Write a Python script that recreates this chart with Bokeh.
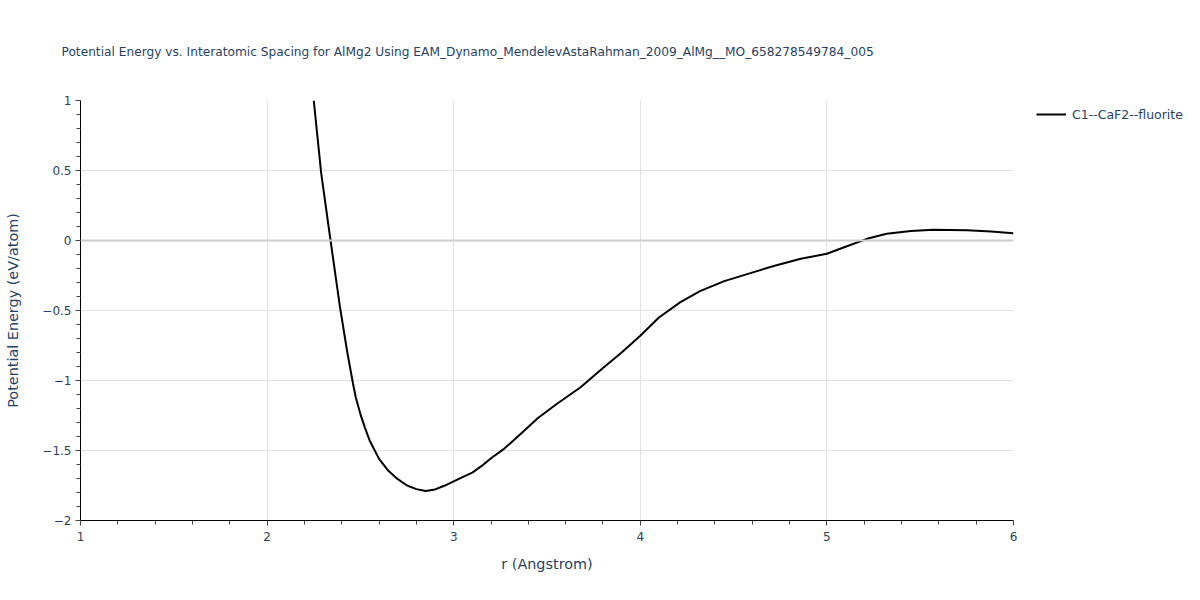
from bokeh.plotting import figure
from bokeh.models import Legend, LegendItem, Span, FixedTicker, CustomJSTickFormatter, Range1d
from bokeh.embed import file_html
from bokeh.resources import INLINE

# ---- data ----
r_angstrom = [2.25, 2.29, 2.34, 2.39, 2.43, 2.46, 2.475, 2.50, 2.525, 2.55, 2.60, 2.65, 2.70,
              2.75, 2.80, 2.85, 2.90, 2.95, 3.00, 3.05, 3.10, 3.15, 3.20, 3.27, 3.36, 3.45,
              3.55, 3.68, 3.80, 3.90, 4.00, 4.10, 4.215, 4.32, 4.45, 4.59, 4.72, 4.86,
              5.00, 5.10, 5.215, 5.32, 5.45, 5.57, 5.75, 5.88, 6.00]
energy = [1.0, 0.48, 0.0, -0.47, -0.80, -1.02, -1.12, -1.24, -1.34, -1.43, -1.56, -1.645, -1.705,
          -1.75, -1.776, -1.79, -1.778, -1.752, -1.72, -1.688, -1.658, -1.61, -1.555, -1.488, -1.38, -1.27,
          -1.17, -1.048, -0.91, -0.80, -0.68, -0.55, -0.44, -0.362, -0.29, -0.233, -0.18, -0.131,
          -0.095, -0.045, 0.012, 0.048, 0.068, 0.076, 0.074, 0.064, 0.052]
series_name = "C1--CaF2--fluorite"
title_text = ("Potential Energy vs. Interatomic Spacing for AlMg2 Using "
              "EAM_Dynamo_MendelevAstaRahman_2009_AlMg__MO_658278549784_005")
x_ticks = [1, 2, 3, 4, 5, 6]
x_minor = [1.2, 1.4, 1.6, 1.8, 2.2, 2.4, 2.6, 2.8, 3.2, 3.4, 3.6, 3.8,
           4.2, 4.4, 4.6, 4.8, 5.2, 5.4, 5.6, 5.8]
y_ticks = [-2, -1.5, -1, -0.5, 0, 0.5, 1]
y_minor = [-1.9, -1.8, -1.7, -1.6, -1.4, -1.3, -1.2, -1.1, -0.9, -0.8, -0.7, -0.6,
           -0.4, -0.3, -0.2, -0.1, 0.1, 0.2, 0.3, 0.4, 0.6, 0.7, 0.8, 0.9]

FONT = "DejaVu Sans"
TXT = "#2a3f5f"

p = figure(frame_width=933, frame_height=420, output_backend="svg", toolbar_location=None,
           x_range=Range1d(1, 6), y_range=Range1d(-2, 1),
           min_border_left=80, min_border_right=10, min_border_top=100, min_border_bottom=64,
           title=title_text)
p.outline_line_color = None
p.background_fill_color = "white"
p.border_fill_color = "white"

p.title.text_font = FONT
p.title.text_font_size = "12.2px"
p.title.text_font_style = "normal"
p.title.text_color = TXT
p.title.offset = -19
p.title.vertical_align = "top"
p.title.standoff = 80

minus_fmt = CustomJSTickFormatter(code="return tick.toString().replace('-', '\u2212');")

for ax, ticks, minor in ((p.xaxis[0], x_ticks, x_minor), (p.yaxis[0], y_ticks, y_minor)):
    ax.ticker = FixedTicker(ticks=ticks, minor_ticks=minor)
    ax.formatter = minus_fmt
    ax.axis_line_color = "black"
    ax.axis_line_width = 1
    ax.major_tick_line_color = "#444444"
    ax.minor_tick_line_color = "#444444"
    ax.major_tick_out = 5
    ax.major_tick_in = 0
    ax.minor_tick_out = 4
    ax.minor_tick_in = 0
    ax.major_label_text_font = FONT
    ax.major_label_text_font_size = "12px"
    ax.major_label_text_color = TXT
    ax.axis_label_text_font = FONT
    ax.axis_label_text_font_size = "14.4px"
    ax.axis_label_text_font_style = "normal"
    ax.axis_label_text_color = TXT

p.xaxis.axis_label = "r (Angstrom)"
p.yaxis.axis_label = "Potential Energy (eV/atom)"
p.xaxis.major_label_standoff = 6
p.xaxis.axis_label_standoff = 12
p.yaxis.major_label_standoff = 4
p.yaxis.axis_label_standoff = 18

p.xgrid.ticker = FixedTicker(ticks=x_ticks)
p.ygrid.ticker = FixedTicker(ticks=[t for t in y_ticks if t != 0])
p.xgrid.grid_line_color = "#e2e2e2"
p.ygrid.grid_line_color = "#e2e2e2"
p.xgrid.grid_line_width = 1
p.ygrid.grid_line_width = 1

zero = Span(location=0, dimension="width", line_color="#cccccc", line_width=2)
p.add_layout(zero)

ln = p.line(r_angstrom, energy, line_color="black", line_width=2)

legend = Legend(items=[LegendItem(label=series_name, renderers=[ln])],
                location="top_left", orientation="vertical")
legend.title = " "
legend.title_location = "left"
legend.title_text_font_size = "4px"
legend.title_standoff = 18
legend.padding = 0
legend.margin = 0
legend.spacing = 0
legend.glyph_width = 30
legend.glyph_height = 28
legend.label_standoff = 6
legend.label_text_font = FONT
legend.label_text_font_size = "12.5px"
legend.label_text_color = TXT
legend.border_line_color = None
legend.background_fill_alpha = 0
p.add_layout(legend, "right")

open("out.html", "w").write(file_html(p, INLINE))
